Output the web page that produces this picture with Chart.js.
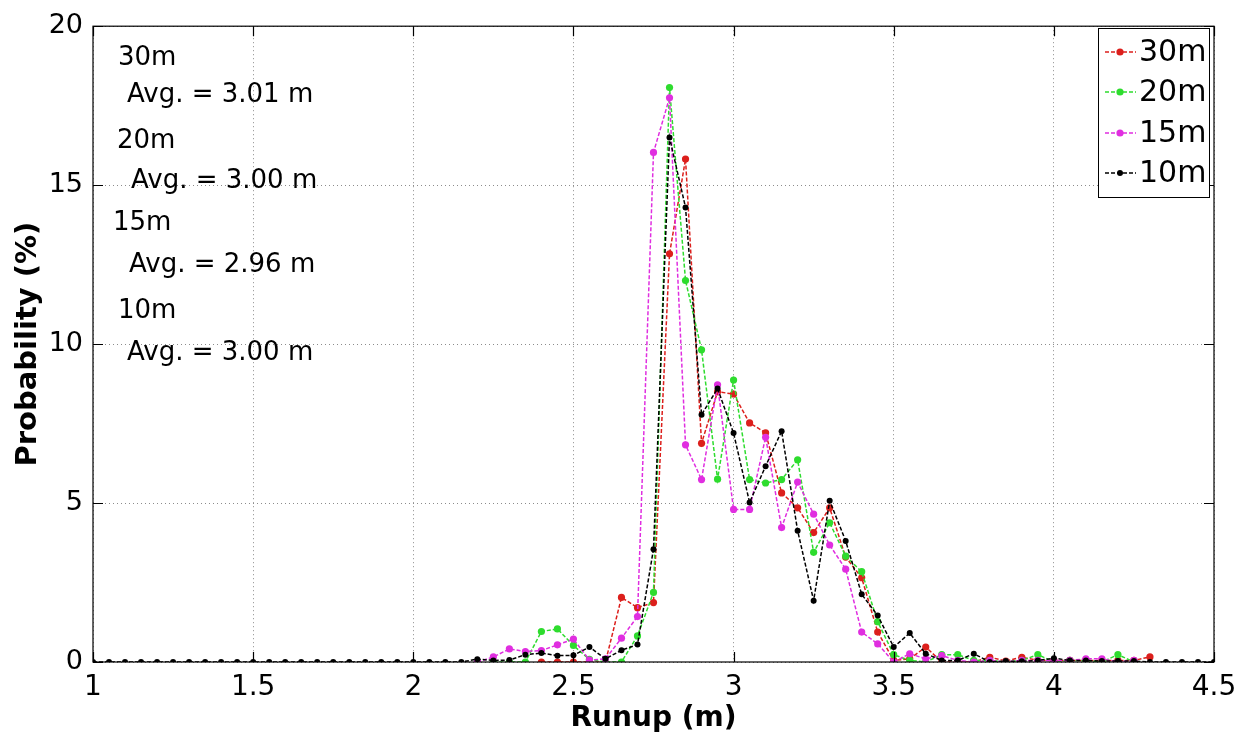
<!DOCTYPE html>
<html>
<head>
<meta charset="utf-8">
<title>Runup probability</title>
<script src="https://cdn.jsdelivr.net/npm/chart.js@4.4.1/dist/chart.umd.min.js"></script>
<style>
  body { margin: 0; background: #fff; }
  canvas { display: block; }
</style>
</head>
<body>
<canvas id="runupChart" width="1247" height="740"></canvas>
<script>
// runup bins (m)
const runup = [
  1.00, 1.05, 1.10, 1.15, 1.20, 1.25, 1.30, 1.35, 1.40, 1.45,
  1.50, 1.55, 1.60, 1.65, 1.70, 1.75, 1.80, 1.85, 1.90, 1.95,
  2.00, 2.05, 2.10, 2.15, 2.20, 2.25, 2.30, 2.35, 2.40, 2.45,
  2.50, 2.55, 2.60, 2.65, 2.70, 2.75, 2.80, 2.85, 2.90, 2.95,
  3.00, 3.05, 3.10, 3.15, 3.20, 3.25, 3.30, 3.35, 3.40, 3.45,
  3.50, 3.55, 3.60, 3.65, 3.70, 3.75, 3.80, 3.85, 3.90, 3.95,
  4.00, 4.05, 4.10, 4.15, 4.20, 4.25, 4.30, 4.35, 4.40, 4.45,
  4.50
];

// probability (%) per bin, null = no value
const prob30m = [
  null, null, null, null, null, null, null, null, null, null,
  null, null, null, null, null, null, null, null, null, null,
  null, null, null, null, null, null, null, null, 0, 0,
  0, 0, 0, 2.03, 1.71, 1.87, 12.84, 15.82, 6.88, 8.50,
  8.43, 7.52, 7.21, 5.32, 4.85, 4.07, 4.85, 3.30, 2.65, 0.94,
  0.05, 0.10, 0.47, 0, 0, 0, 0.15, 0.03, 0.15, 0.05,
  0.05, 0.05, 0.05, 0.05, 0.05, 0.05, 0.16, null, null, null,
  null
];
const prob20m = [
  null, null, null, null, null, null, null, null, null, null,
  null, null, null, null, null, null, null, null, null, null,
  null, null, null, null, null, 0, 0, 0, 0.96, 1.04,
  0.52, 0.08, 0, 0, 0.82, 2.19, 18.07, 12.00, 9.82, 5.75,
  8.87, 5.74, 5.63, 5.74, 6.36, 3.45, 4.38, 3.33, 2.84, 1.27,
  0.23, 0.05, 0, 0.23, 0.23, 0.05, 0.05, 0, 0.05, 0.23,
  0, 0.05, 0.05, 0, 0.23, 0, null, null, null, null,
  null
];
const prob15m = [
  null, null, null, null, null, null, null, null, null, null,
  null, null, null, null, null, null, null, null, null, null,
  null, null, null, null, 0, 0.16, 0.41, 0.33, 0.36, 0.54,
  0.72, 0.06, 0.10, 0.75, 1.43, 16.03, 17.75, 6.83, 5.74, 8.72,
  4.80, 4.80, 7.07, 4.23, 5.66, 4.65, 3.68, 2.92, 0.94, 0.57,
  0, 0.26, 0.10, 0.20, 0.05, 0, 0.05, 0, 0.05, 0.05,
  0.05, 0.05, 0.10, 0.10, 0, 0.05, null, null, null, null,
  null
];
const prob10m = [
  0, 0, 0, 0, 0, 0, 0, 0, 0, 0,
  0, 0, 0, 0, 0, 0, 0, 0, 0, 0,
  0, 0, 0, 0, 0.09, 0.05, 0.06, 0.23, 0.28, 0.20,
  0.21, 0.47, 0.10, 0.37, 0.55, 3.55, 16.50, 14.30, 7.78, 8.60,
  7.20, 5.02, 6.16, 7.26, 4.13, 1.93, 5.07, 3.81, 2.13, 1.46,
  0.47, 0.91, 0.26, 0.05, 0.05, 0.26, 0, 0.03, 0.02, 0.05,
  0.12, 0.05, 0.05, 0.03, 0.03, 0.03, 0, 0, 0, 0,
  0
];

const seriesNames = ['30m', '20m', '15m', '10m'];
const seriesColors = ['#dc1f1c', '#2edc2e', '#e02ee0', '#000000'];
const avgLines = [
  '30m', 'Avg. = 3.01 m',
  '20m', 'Avg. = 3.00 m',
  '15m', 'Avg. = 2.96 m',
  '10m', 'Avg. = 3.00 m'
];

const FONT = "'DejaVu Sans', sans-serif";

function toPoints(values) {
  return runup.map((x, i) => ({ x: x, y: values[i] }));
}

const allSeries = [prob30m, prob20m, prob15m, prob10m];
const datasets = allSeries.map((vals, k) => ({
  label: seriesNames[k],
  data: toPoints(vals),
  borderColor: seriesColors[k],
  backgroundColor: seriesColors[k],
  borderWidth: 1.5,
  borderDash: [4, 2],
  pointRadius: k === 3 ? 3 : 3.6,
  pointBorderWidth: 0,
  pointHoverRadius: 3,
  tension: 0,
  spanGaps: false,
  order: 4 - k   // 10m drawn last, on top
}));

// frame, inward ticks, text block and legend
const matlabLook = {
  id: 'matlabLook',
  afterDraw(chart) {
    const { ctx, chartArea: a, scales } = chart;
    ctx.save();
    ctx.strokeStyle = '#000';
    ctx.lineWidth = 1.2;
    ctx.setLineDash([]);
    ctx.strokeRect(a.left, a.top, a.right - a.left, a.bottom - a.top);

    // inward tick marks
    const len = 10;
    ctx.beginPath();
    scales.x.ticks.forEach(t => {
      const px = Math.round(scales.x.getPixelForValue(t.value)) + 0.5;
      ctx.moveTo(px, a.bottom); ctx.lineTo(px, a.bottom - len);
      ctx.moveTo(px, a.top); ctx.lineTo(px, a.top + len);
    });
    scales.y.ticks.forEach(t => {
      const py = Math.round(scales.y.getPixelForValue(t.value)) + 0.5;
      ctx.moveTo(a.left, py); ctx.lineTo(a.left + len, py);
      ctx.moveTo(a.right, py); ctx.lineTo(a.right - len, py);
    });
    ctx.stroke();

    // average runup text
    ctx.fillStyle = '#000';
    ctx.font = '26px ' + FONT;
    ctx.textBaseline = 'alphabetic';
    ctx.textAlign = 'left';
    const textX = [25, 34, 24, 38, 20, 36, 25, 34];
    const textY = [65, 102, 148, 188, 230, 272, 318, 360];
    avgLines.forEach((s, i) => ctx.fillText(s, a.left + textX[i], textY[i]));

    // legend box
    const bx = 1098.5, by = 28.5, bw = 111, bh = 169;
    ctx.fillStyle = '#fff';
    ctx.fillRect(bx, by, bw, bh);
    ctx.strokeStyle = '#000';
    ctx.lineWidth = 1;
    ctx.strokeRect(bx, by, bw, bh);
    ctx.font = '30px ' + FONT;
    ctx.textBaseline = 'middle';
    const rowY = [52, 92, 133, 173];
    seriesNames.forEach((name, i) => {
      const y = rowY[i];
      ctx.strokeStyle = seriesColors[i];
      ctx.lineWidth = 1.5;
      ctx.setLineDash([4, 2]);
      ctx.beginPath();
      ctx.moveTo(1105, y); ctx.lineTo(1136, y);
      ctx.stroke();
      ctx.setLineDash([]);
      ctx.fillStyle = seriesColors[i];
      ctx.beginPath();
      ctx.arc(1120, y, i === 3 ? 3 : 3.6, 0, Math.PI * 2);
      ctx.fill();
      ctx.fillStyle = '#000';
      ctx.fillText(name, 1139, y + 1);
    });
    ctx.restore();
  }
};

const ctx = document.getElementById('runupChart').getContext('2d');
new Chart(ctx, {
  type: 'line',
  data: { datasets: datasets },
  options: {
    responsive: false,
    animation: false,
    events: [],
    layout: { padding: { left: 0, top: 23, right: 33, bottom: 0 } },
    plugins: {
      legend: { display: false },
      tooltip: { enabled: false }
    },
    scales: {
      x: {
        type: 'linear',
        min: 1,
        max: 4.5,
        afterFit: s => { s.height = 78; },
        ticks: {
          stepSize: 0.5,
          padding: 9,
          color: '#000',
          font: { family: FONT, size: 28 },
          maxRotation: 0,
          callback: v => String(Math.round(v * 10) / 10)
        },
        grid: { color: '#8c8c8c', lineWidth: 1, drawTicks: false },
        border: { display: false, dash: [1, 3] },
        title: {
          display: true,
          text: 'Runup (m)',
          color: '#000',
          font: { family: FONT, size: 28, weight: 'bold' },
          padding: { top: 0, bottom: 4 }
        }
      },
      y: {
        type: 'linear',
        min: 0,
        max: 20,
        afterFit: s => { s.width = 93; },
        ticks: {
          stepSize: 5,
          padding: 10,
          color: '#000',
          font: { family: FONT, size: 27 }
        },
        grid: { color: '#8c8c8c', lineWidth: 1, drawTicks: false },
        border: { display: false, dash: [1, 3] },
        title: {
          display: true,
          text: 'Probability (%)',
          color: '#000',
          font: { family: FONT, size: 29, weight: 'bold' },
          padding: { top: 11, bottom: 0 }
        }
      }
    }
  },
  plugins: [matlabLook]
});
</script>
</body>
</html>
